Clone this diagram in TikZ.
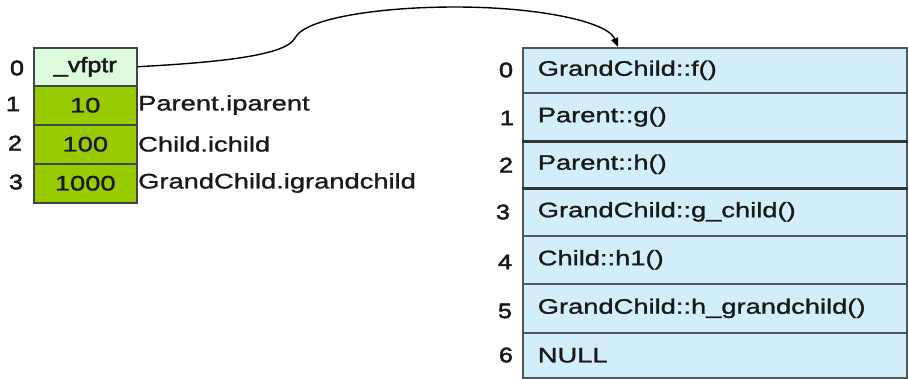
\documentclass[tikz,border=0pt]{standalone}
\usepackage{fontspec}
\setmainfont{Liberation Sans}[FakeStretch=1.3, FakeBold=1.2]
\newfontfamily\idxfont{Liberation Sans}[FakeStretch=1.2, FakeBold=2.4]
\usetikzlibrary{arrows.meta}

\definecolor{slotmint}{HTML}{DCFADC}
\definecolor{slotgreen}{HTML}{99CC00}
\definecolor{vtblue}{HTML}{D3EEFB}
\definecolor{edgegray}{HTML}{4F565C}

\tikzset{
  txt/.style={font=\fontsize{21}{25}\selectfont, text=black!90},
  objslot/.style={txt, draw=edgegray!80!black, line width=1.5pt, minimum width=103pt, inner sep=0pt, anchor=north west},
  vtslot/.style={txt, draw=edgegray, line width=1.6pt, fill=vtblue, minimum width=384pt,
                 text width=354pt, inner xsep=15pt, inner ysep=0pt, align=left, anchor=north west},
  idx/.style={font=\fontsize{21}{25}\idxfont, text=black!90, inner sep=0pt},
  member/.style={txt, inner sep=0pt, anchor=west},
  ptr/.style={line width=1.4pt, -{Triangle[length=9pt,width=7pt]}}
}

\begin{document}
\begin{tikzpicture}[x=1pt, y=-1pt]
\useasboundingbox (0,0) rectangle (909,378);

% object layout
\node[objslot, fill=slotmint, minimum height=38pt] (vf) at (33,47) {{\idxfont\_vfptr}};
\node[objslot, fill=slotgreen, minimum height=39pt] (m1) at (33,85) {10};
\node[objslot, fill=slotgreen, minimum height=39pt] (m2) at (33,124) {100};
\node[objslot, fill=slotgreen, minimum height=39pt] (m3) at (33,163) {1000};

\node[idx] (i0) at (17,68) {0};
\node[idx] (i1) at (13,104) {1};
\node[idx] (i2) at (15,143) {2};
\node[idx] (i3) at (16,182) {3};

\node[member] (n1) at (138,105) {Parent.iparent};
\node[member] (n2) at (138,144) {Child.ichild};
\node[member] (n3) at (138,183) {GrandChild.igrandchild};

% virtual table
\node[vtslot, minimum height=45pt] (v0) at (522,47) {GrandChild::f()};
\node[vtslot, minimum height=48pt] (v1) at (522,92) {Parent::g()};
\node[vtslot, minimum height=47pt] (v2) at (522,140) {Parent::h()};
\node[vtslot, minimum height=48pt] (v3) at (522,187) {GrandChild::g\_child()};
\node[vtslot, minimum height=48pt] (v4) at (522,235) {Child::h1()};
\node[vtslot, minimum height=49pt] (v5) at (522,283) {GrandChild::h\_grandchild()};
\node[vtslot, minimum height=45pt] (v6) at (522,332) {NULL};

\draw[line width=2.4pt, black!80] (v1.south west) -- (v1.south east);
\draw[line width=2.4pt, black!80] (v2.south west) -- (v2.south east);

\node[idx] (j0) at (506,70) {0};
\node[idx] (j1) at (507,118) {1};
\node[idx] (j2) at (506,165) {2};
\node[idx] (j3) at (503,212) {3};
\node[idx] (j4) at (505,262) {4};
\node[idx] (j5) at (505,311) {5};
\node[idx] (j6) at (506,355) {6};

% vfptr -> virtual table
\coordinate (tip) at (618,47);
\draw[ptr] (vf.east) .. controls (225,62) and (286,55) .. (295,38)
  .. controls (305,18) and (380,7) .. (455,7)
  .. controls (540,7) and (608,22) .. (tip);
\end{tikzpicture}
\end{document}
